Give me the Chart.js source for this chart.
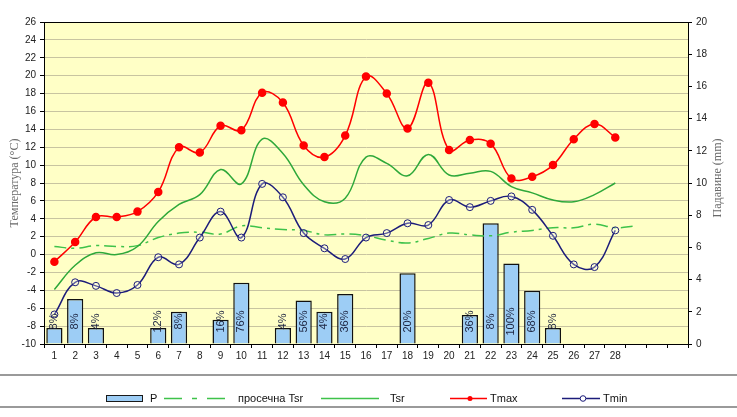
<!DOCTYPE html>
<html>
<head>
<meta charset="utf-8">
<script src="https://cdn.jsdelivr.net/npm/chart.js@4/dist/chart.umd.min.js"></script>
<style>
	body { margin: 0; background: #fff; }
	#wrap { position: relative; width: 737px; height: 417px; }
	#legend { position: absolute; left: 0; top: 374px; width: 737px; height: 30px;
		border-top: 2px solid #9a9a9a; border-bottom: 2px solid #9a9a9a;
		font-family: "Liberation Sans", Arial, sans-serif; font-size: 11px; color: #111; }
	#legend span { position: absolute; top: 16px; line-height: 12px; }
	#legend svg { position: absolute; left: 0; top: 0; }
</style>
</head>
<body>
<div id="wrap">
	<canvas id="chart" width="737" height="417"></canvas>
	<div id="legend">
		<svg width="737" height="30">
			<rect x="106.5" y="19.5" width="36" height="6" fill="#9dcdf5" stroke="#1a1a1a" stroke-width="1"/>
			<line x1="164" y1="22.5" x2="225" y2="22.5" stroke="#3ec24a" stroke-width="1.5" stroke-dasharray="18,10,5,10"/>
			<line x1="321" y1="22.5" x2="379" y2="22.5" stroke="#3ec24a" stroke-width="1.5"/>
			<line x1="450" y1="22.5" x2="487" y2="22.5" stroke="#ff0000" stroke-width="1.5"/>
			<circle cx="470" cy="22.5" r="2.5" fill="#ff0000"/>
			<line x1="562" y1="22.5" x2="600" y2="22.5" stroke="#1c1c7a" stroke-width="1.5"/>
			<circle cx="583" cy="22.5" r="2.8" fill="#fff" stroke="#1c1c7a" stroke-width="1"/>
		</svg>
		<span style="left:150px;">P</span>
		<span style="left:238px;">просечна Tsr</span>
		<span style="left:390px;">Tsr</span>
		<span style="left:490px;">Tmax</span>
		<span style="left:603px;">Tmin</span>
	</div>
</div>
<script>
	var days = ['1','2','3','4','5','6','7','8','9','10','11','12','13','14','15','16',
		'17','18','19','20','21','22','23','24','25','26','27','28','','',''];

	var precip = [1.0, 2.8, 1.0, null, null, 1.0, 2.0, null, 1.5, 3.8, null, 1.0, 2.7, 2.0,
		3.1, null, null, 4.4, null, null, 1.8, 7.5, 5.0, 3.3, 1.0, null, null, null];

	var precipPct = ['8%','8%','4%','','','12%','8%','','16%','76%','','4%','56%','4%',
		'36%','','','20%','','','36%','8%','100%','68%','8%','','',''];

	var tmax = [-0.8, 1.4, 4.2, 4.2, 4.8, 7.0, 12.0, 11.4, 14.4, 13.9, 18.1, 17.0, 12.2, 10.9,
		13.3, 19.9, 18.0, 14.1, 19.2, 11.7, 12.8, 12.4, 8.5, 8.7, 10.0, 12.9, 14.6, 13.1];

	var tmin = [-6.7, -3.1, -3.5, -4.3, -3.4, -0.3, -1.1, 1.9, 4.8, 1.9, 7.9, 6.4, 2.4, 0.7,
		-0.5, 1.9, 2.4, 3.5, 3.3, 6.1, 5.3, 6.0, 6.5, 5.0, 2.1, -1.1, -1.4, 2.7];

	var tsr = [-3.9, -1.2, 0.2, 0.0, 0.9, 3.7, 5.6, 6.7, 9.5, 7.9, 12.9, 11.3, 7.8, 5.9,
		6.3, 10.9, 10.2, 8.8, 11.2, 8.9, 9.1, 9.3, 7.6, 6.9, 6.1, 5.9, 6.7, 8.0];

	var tsrAvg = [0.9, 0.7, 1.0, 0.9, 1.0, 1.9, 2.4, 2.5, 2.3, 3.2, 3.0, 2.8, 2.7, 2.2,
		2.3, 2.1, 1.6, 1.3, 1.8, 2.4, 2.2, 2.1, 2.5, 2.7, 3.0, 3.0, 3.4, 3.0, 3.2];

	var tickFont = { family: 'Liberation Sans', size: 10 };

	// yellow plot area, frame, axis titles, percent labels on the bars
	var decor = {
		id: 'decor',
		beforeDraw: function(chart) {
			var a = chart.chartArea, ctx = chart.ctx;
			ctx.save();
			ctx.fillStyle = '#ffffc6';
			ctx.fillRect(a.left, a.top, a.right - a.left, a.bottom - a.top);
			ctx.restore();
		},
		afterDatasetsDraw: function(chart) {
			var ctx = chart.ctx, meta = chart.getDatasetMeta(0);
			ctx.save();
			ctx.font = '11px "Liberation Sans", Arial, sans-serif';
			ctx.fillStyle = '#1c2440';
			ctx.textAlign = 'center';
			ctx.textBaseline = 'middle';
			meta.data.forEach(function(el, i) {
				if (!precipPct[i]) return;
				ctx.save();
				ctx.translate(el.x, el.base - 22);
				ctx.rotate(-Math.PI / 2);
				ctx.fillText(precipPct[i], 0, 0);
				ctx.restore();
			});
			ctx.restore();
		},
		afterDraw: function(chart) {
			var a = chart.chartArea, ctx = chart.ctx;
			var mid = (a.top + a.bottom) / 2;
			ctx.save();
			ctx.strokeStyle = '#000';
			ctx.lineWidth = 1;
			ctx.strokeRect(a.left + 0.5, a.top + 0.5, a.right - a.left, a.bottom - a.top);
			ctx.font = '12px "Liberation Serif", "Times New Roman", serif';
			ctx.fillStyle = '#6a6a6a';
			ctx.textAlign = 'center';
			ctx.textBaseline = 'middle';
			ctx.translate(15, mid);
			ctx.rotate(-Math.PI / 2);
			ctx.fillText('Температура (°C)', 0, 0);
			ctx.restore();
			ctx.save();
			ctx.font = '12px "Liberation Serif", "Times New Roman", serif';
			ctx.fillStyle = '#6a6a6a';
			ctx.textAlign = 'center';
			ctx.textBaseline = 'middle';
			ctx.translate(718, mid - 5);
			ctx.rotate(-Math.PI / 2);
			ctx.fillText('Падавине (mm)', 0, 0);
			ctx.restore();
		}
	};

	new Chart($id('chart'), {
		type: 'bar',
		data: {
			labels: days,
			datasets: [{
				label: 'P',
				type: 'bar',
				data: precip,
				yAxisID: 'yP',
				backgroundColor: '#9dcdf5',
				borderColor: '#111',
				borderWidth: 1.5,
				categoryPercentage: 1,
				barPercentage: 0.78,
				order: 5
			}, {
				label: 'просечна Tsr',
				type: 'line',
				data: tsrAvg,
				yAxisID: 'yT',
				borderColor: '#3ec24a',
				borderWidth: 1.5,
				borderDash: [12, 5, 3, 5],
				pointRadius: 0,
				tension: 0.4,
				order: 4
			}, {
				label: 'Tsr',
				type: 'line',
				data: tsr,
				yAxisID: 'yT',
				borderColor: '#2ea83a',
				borderWidth: 1.5,
				pointRadius: 0,
				tension: 0.4,
				order: 3
			}, {
				label: 'Tmax',
				type: 'line',
				data: tmax,
				yAxisID: 'yT',
				borderColor: '#ff0000',
				borderWidth: 1.5,
				pointRadius: 3.5,
				pointBackgroundColor: '#ff0000',
				pointBorderColor: '#ff0000',
				tension: 0.4,
				order: 2
			}, {
				label: 'Tmin',
				type: 'line',
				data: tmin,
				yAxisID: 'yT',
				borderColor: '#1c1c7a',
				borderWidth: 1.5,
				pointRadius: 3.5,
				pointBorderWidth: 1,
				pointBackgroundColor: 'rgba(255,255,255,0.3)',
				pointBorderColor: '#1c1c7a',
				tension: 0.4,
				order: 1
			}]
		},
		options: {
			responsive: false,
			animation: false,
			layout: { padding: { left: 0, right: 0, top: 22, bottom: 53 } },
			plugins: {
				legend: { display: false },
				tooltip: { enabled: false }
			},
			scales: {
				x: {
					offset: true,
					grid: { offset: true, drawOnChartArea: false, tickLength: 4, color: '#000' },
					border: { color: '#000' },
					ticks: { font: tickFont, color: '#222', autoSkip: false, maxRotation: 0, padding: 2 },
					afterFit: function(s) { s.height = 20; }
				},
				yT: {
					position: 'left',
					min: -10,
					max: 26,
					ticks: { stepSize: 2, font: tickFont, color: '#222', padding: 4 },
					grid: { color: '#c8c4a0', tickLength: 4, tickColor: '#000' },
					border: { color: '#000' },
					afterFit: function(s) { s.width = 44; }
				},
				yP: {
					position: 'right',
					min: 0,
					max: 20,
					ticks: { stepSize: 2, font: tickFont, color: '#222', padding: 4 },
					grid: { drawOnChartArea: false, tickLength: 4, color: '#000' },
					border: { color: '#000' },
					afterFit: function(s) { s.width = 49; }
				}
			}
		},
		plugins: [decor]
	});

	function $id(id) { return document.getElementById(id); }
</script>
</body>
</html>
